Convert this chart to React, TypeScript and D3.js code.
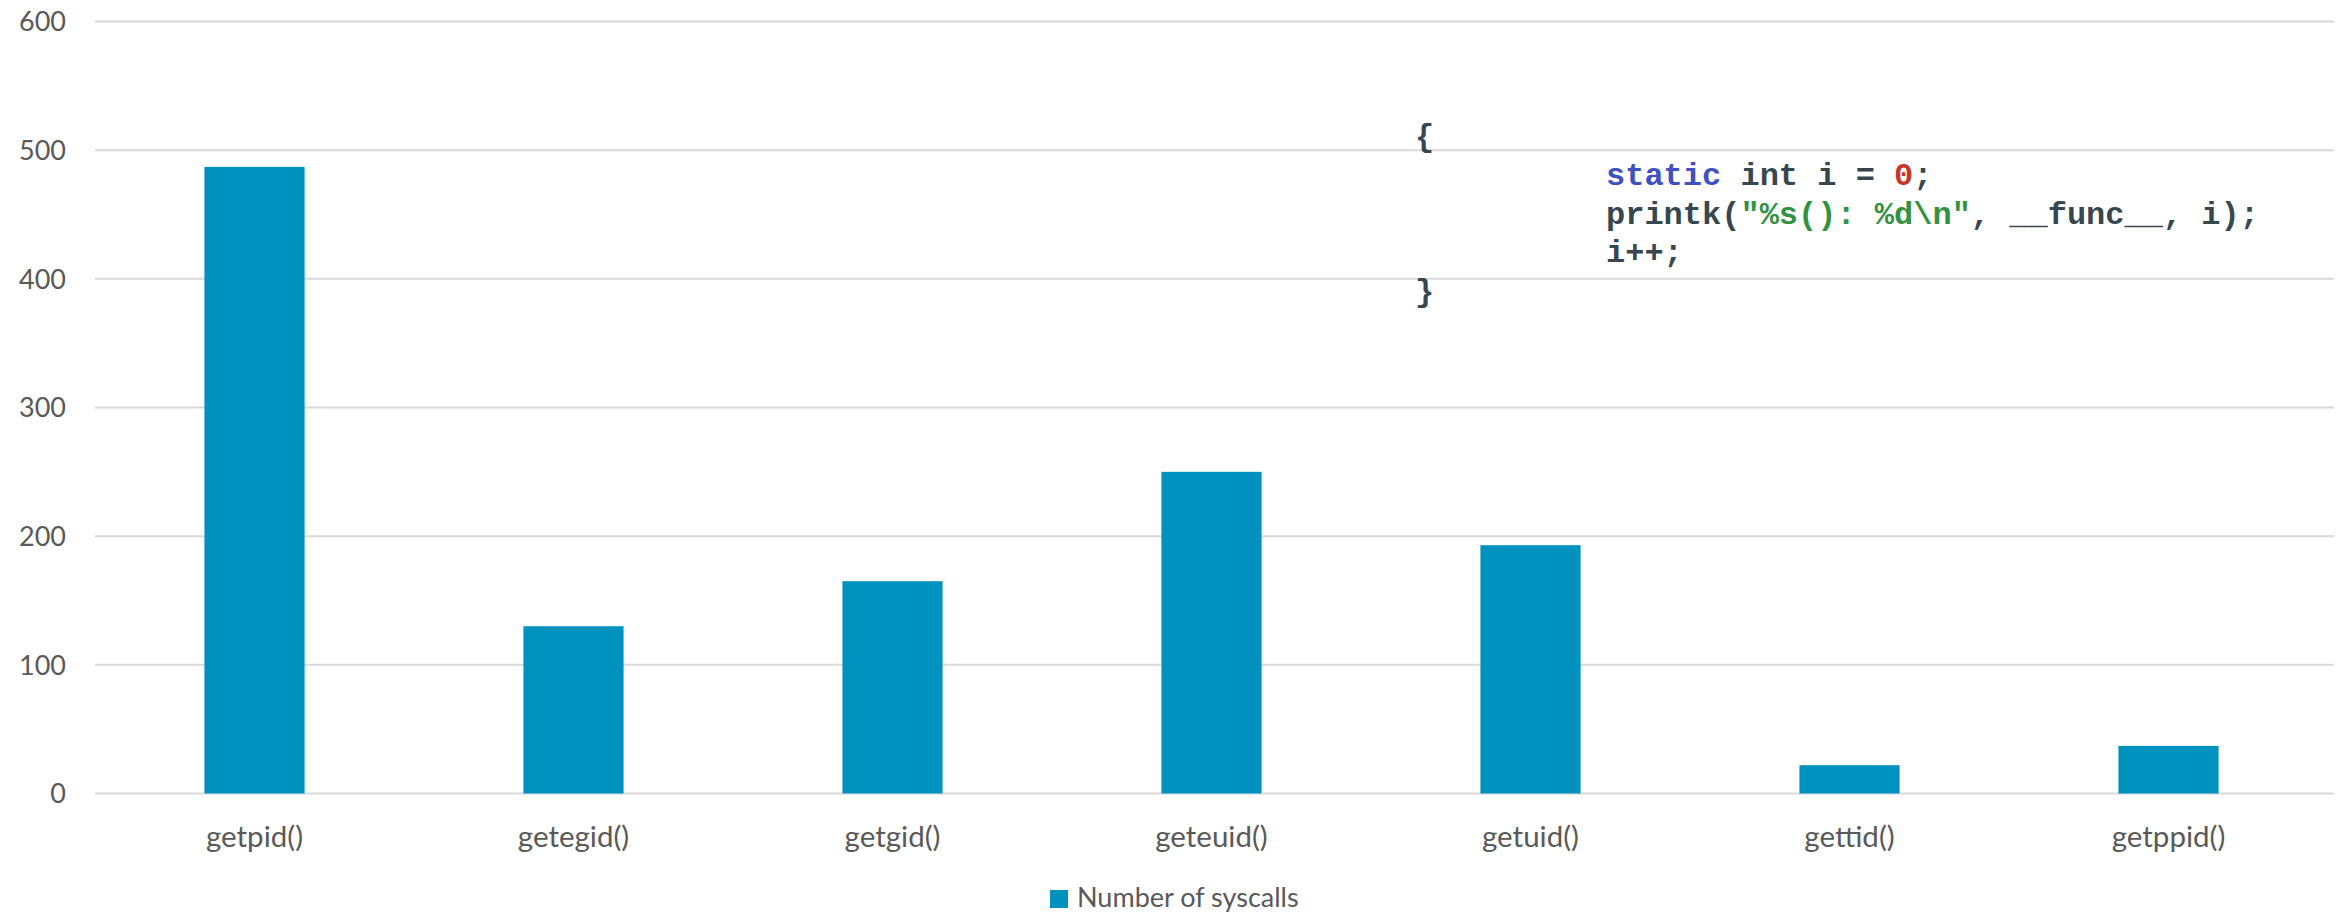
import React, { useRef, useEffect } from "react";
import * as d3 from "d3";

const categories = ["getpid()", "getegid()", "getgid()", "geteuid()", "getuid()", "gettid()", "getppid()"];
const syscalls = [487, 130, 165, 250, 193, 22, 37];
const y_ticks = [0, 100, 200, 300, 400, 500, 600];
const series_name = "Number of syscalls";

// code snippet shown on the chart, split into coloured pieces
const code_lines = [
	[{ t: "{", c: "#37474f" }],
	[{ t: "static", c: "#3f51c0" }, { t: " int i = ", c: "#37474f" }, { t: "0", c: "#c8352a" }, { t: ";", c: "#37474f" }],
	[{ t: "printk(", c: "#37474f" }, { t: "\"%s(): %d\\n\"", c: "#33923f" }, { t: ", __func__, i);", c: "#37474f" }],
	[{ t: "i++;", c: "#37474f" }],
	[{ t: "}", c: "#37474f" }],
];
const code_indent = [0, 1, 1, 1, 0];

const App = () => {
	const svg_ref = useRef(null);
	const width = 2341;
	const height = 917;
	const left = 95;
	const right = 2328;
	const bar_color = "#0092be";
	const label_color = "#595959";
	const font = "Lato, 'Open Sans', sans-serif";

	useEffect(() => {
		const svg = d3.select(svg_ref.current);
		svg.selectChildren().remove();

		const x_scale = d3.scaleBand()
			.domain(categories)
			.range([left, right])
			.paddingInner(0.686)
			.paddingOuter(0.343);
		const y_scale = d3.scaleLinear()
			.domain([0, 600])
			.range([793.5, 21.5]);

		// grid lines
		svg.append("g")
			.selectAll("line")
			.data(y_ticks)
			.join("line")
			.attr("x1", left)
			.attr("x2", right + 6)
			.attr("y1", d => y_scale(d))
			.attr("y2", d => y_scale(d))
			.attr("stroke", "#d9d9d9")
			.attr("stroke-width", 2);

		// y labels
		svg.append("g")
			.selectAll("text")
			.data(y_ticks)
			.join("text")
			.attr("x", 66)
			.attr("y", d => y_scale(d))
			.attr("dy", "0.36em")
			.attr("text-anchor", "end")
			.style("font-family", font)
			.style("font-size", "27px")
			.attr("fill", label_color)
			.text(d => d);

		// bars
		svg.append("g")
			.selectAll("rect")
			.data(syscalls)
			.join("rect")
			.attr("x", (d, i) => x_scale(categories[i]))
			.attr("width", x_scale.bandwidth())
			.attr("y", d => y_scale(d))
			.attr("height", d => y_scale(0) - y_scale(d))
			.attr("fill", bar_color);

		// x labels
		svg.append("g")
			.selectAll("text")
			.data(categories)
			.join("text")
			.attr("x", d => x_scale(d) + x_scale.bandwidth() / 2)
			.attr("y", 847)
			.attr("text-anchor", "middle")
			.style("font-family", font)
			.style("font-size", "29.5px")
			.attr("fill", label_color)
			.text(d => d);

		// legend
		svg.append("rect")
			.attr("x", 1050)
			.attr("y", 890)
			.attr("width", 18)
			.attr("height", 18)
			.attr("fill", bar_color);
		svg.append("text")
			.attr("x", 1077)
			.attr("y", 907)
			.style("font-family", font)
			.style("font-size", "27px")
			.attr("fill", label_color)
			.text(series_name);

		// code snippet
		const code = svg.append("g")
			.style("font-family", "'Liberation Mono', 'Courier New', monospace")
			.style("font-size", "32px")
			.style("font-weight", "bold");
		code_lines.forEach((line, i) => {
			const txt = code.append("text")
				.attr("x", code_indent[i] ? 1606 : 1415)
				.attr("y", 146 + i * 38.8)
				.style("white-space", "pre");
			line.forEach(part => {
				txt.append("tspan").attr("fill", part.c).text(part.t);
			});
		});
	});

	return (
		<div style={{ position: "absolute", left: 0, top: 0 }}>
			<svg ref={svg_ref} width={width} height={height} style={{ display: "block", background: "#fff" }}>
			</svg>
		</div>
	);
};

export default App;
